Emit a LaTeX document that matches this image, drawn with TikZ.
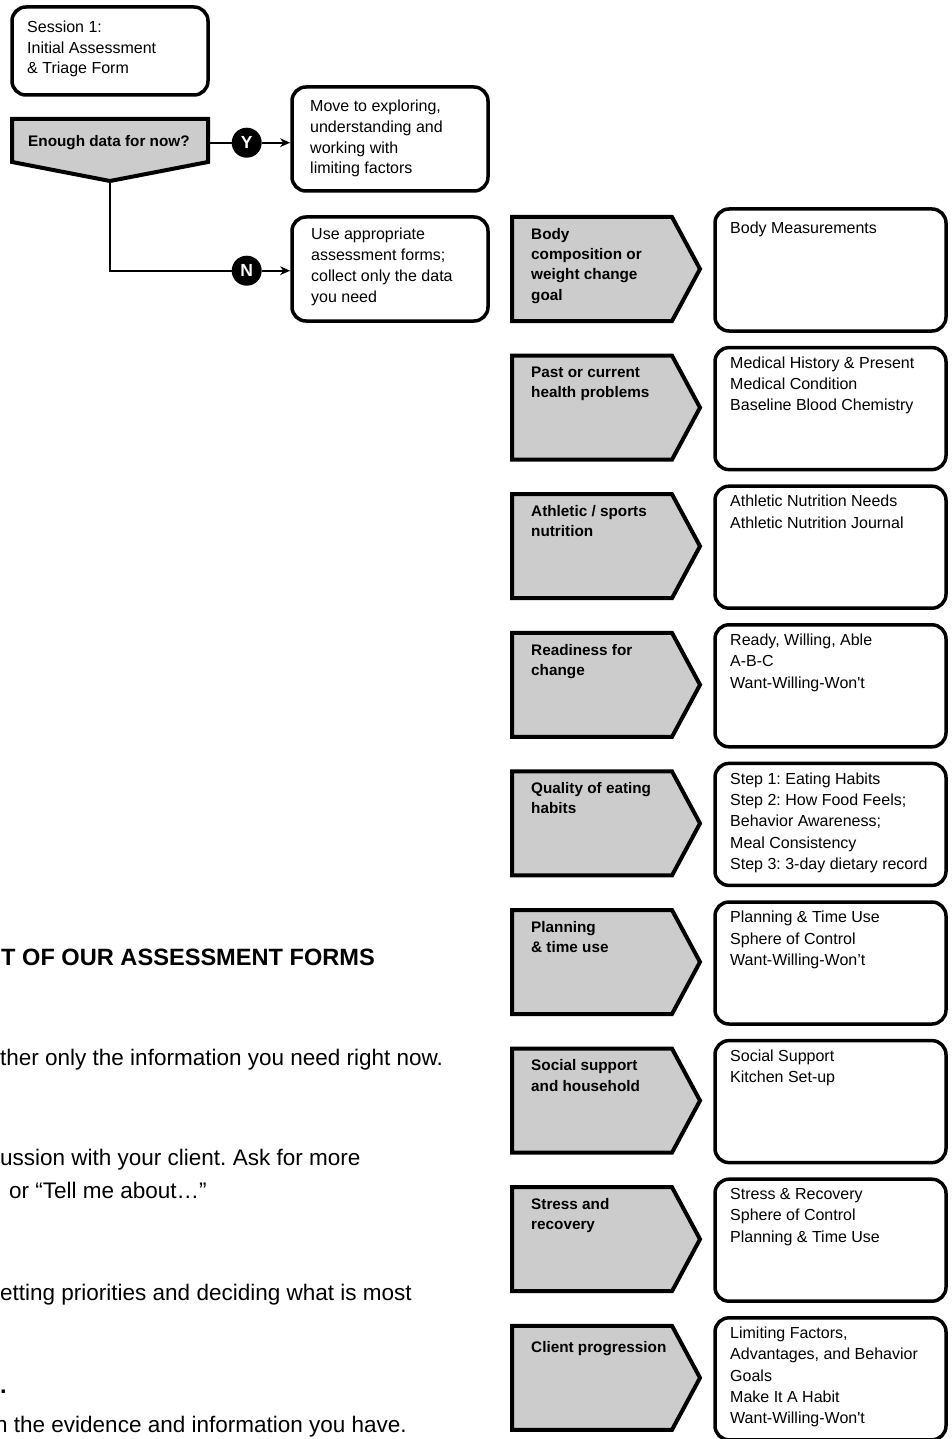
\documentclass[tikz,border=0pt]{standalone}
\usepackage{fontspec}
\setmainfont{Liberation Sans}
\usetikzlibrary{arrows.meta}
\definecolor{boxgray}{RGB}{204,204,204}
\frenchspacing
\newcommand\sq{{\addfontfeatures{Ligatures=TeXOff}'}}
\newcommand\fmrow[4]{%
  \pgfmathsetmacro\ofs{138.6*#1}%
  \draw[gbox] (512,217+\ofs) -- (672,217+\ofs) -- (700,269+\ofs) -- (672,321+\ofs) -- (512,321+\ofs) -- cycle;
  \node[wbox, minimum width=231pt, minimum height=122pt] (w#2) at (830.5,270+\ofs) {};
  \node[btxt] (gt#2) at (531,243+\ofs) {#3};
  \node[rtxt] (wt#2) at (730,233+\ofs) {#4};
}
\begin{document}
\begin{tikzpicture}[x=1pt,y=-1pt,
  wbox/.style={draw, line width=3.5pt, rounded corners=14pt, fill=white, inner sep=0},
  gbox/.style={draw, line width=4pt, fill=boxgray, line join=miter},
  firstline/.style={anchor=north west, yshift=15pt, execute at begin node={\frenchspacing\rule{0pt}{15pt}}},
  rtxt/.style={inner sep=0, firstline, align=left, font=\fontsize{16}{21.3}\selectfont},
  btxt/.style={inner sep=0, firstline, align=left, font=\fontsize{15.3}{20.3}\selectfont\bfseries},
  yn/.style={circle, fill=black, inner sep=0, minimum size=30pt, text=white, font=\fontsize{17.5}{18}\selectfont\bfseries},
  conn/.style={line width=2pt},
  arr/.style={conn, -{Stealth[length=10pt,width=8.5pt,inset=3pt]}},
  body/.style={inner sep=0, anchor=base west, font=\fontsize{22.5}{27}\selectfont\frenchspacing},
  head/.style={inner sep=0, anchor=base west, font=\fontsize{23.6}{28}\selectfont\bfseries}]
\useasboundingbox (0,0) rectangle (951,1439);
\clip (0,0) rectangle (951,1439);

% left flow
\node[wbox, minimum width=196pt, minimum height=88pt] (session) at (110,51) {};
\node[rtxt, font=\fontsize{16}{20.5}\selectfont] (sessiont) at (27,36) {Session 1:\\Initial Assessment\\\& Triage Form};

\draw[gbox] (12,119) -- (208,119) -- (208,162) -- (110,181) -- (12,162) -- cycle;
\coordinate (enR) at (208,142.7);
\coordinate (enB) at (110,181);
\node[btxt] (enought) at (28,146) {Enough data for now?};

\node[wbox, minimum width=196pt, minimum height=104pt] (move) at (390,139) {};
\node[rtxt, font=\fontsize{16}{20.7}\selectfont] (movet) at (310,115) {Move to exploring,\\understanding and\\working with\\limiting factors};

\node[wbox, minimum width=196pt, minimum height=104pt] (use) at (390,269) {};
\node[rtxt, font=\fontsize{16}{20.8}\selectfont] (uset) at (311,243) {Use appropriate\\assessment forms;\\collect only the data\\you need};

\node[yn] (Y) at (246.7,142.7) {Y};
\node[yn] (N) at (246.7,270.7) {N};
\draw[conn] (enR) -- (Y);
\draw[arr] (Y) -- (Y -| move.west);
\draw[conn] (enB) |- (N);
\draw[arr] (N) -- (N -| use.west);

% right column
\fmrow{0}{1}{Body\\composition or\\weight change\\goal}{Body Measurements}
\fmrow{1}{2}{Past or current\\health problems}{Medical History \& Present\\Medical Condition\\Baseline Blood Chemistry}
\fmrow{2}{3}{Athletic / sports\\nutrition}{Athletic Nutrition Needs\\Athletic Nutrition Journal}
\fmrow{3}{4}{Readiness for\\change}{Ready, Willing, Able\\A-B-C\\Want-Willing-Won\sq t}
\fmrow{4}{5}{Quality of eating\\habits}{Step 1: Eating Habits\\Step 2: How Food Feels;\\Behavior Awareness;\\Meal Consistency\\Step 3: 3-day dietary record}
\fmrow{5}{6}{Planning\\\& time use}{Planning \& Time Use\\Sphere of Control\\Want-Willing-Won’t}
\fmrow{6}{7}{Social support\\and household}{Social Support\\Kitchen Set-up}
\fmrow{7}{8}{Stress and\\recovery}{Stress \& Recovery\\Sphere of Control\\Planning \& Time Use}
\fmrow{8}{9}{Client progression}{Limiting Factors,\\Advantages, and Behavior\\Goals\\Make It A Habit\\Want-Willing-Won\sq t}

% left text fragments
\node[head] (h1) at (1,965) {T OF OUR ASSESSMENT FORMS};
\node[body] (b1) at (0,1065) {ther only the information you need right now.};
\node[body] (b2) at (0,1165) {ussion with your client. Ask for more};
\node[body] (b3) at (9,1198) {or “Tell me about…”};
\node[body] (b4) at (0,1300) {etting priorities and deciding what is most};
\node[head] (b5) at (0,1393) {.};
\node[body] (b6) at (-5,1432) {n the evidence and information you have.};
\end{tikzpicture}
\end{document}
